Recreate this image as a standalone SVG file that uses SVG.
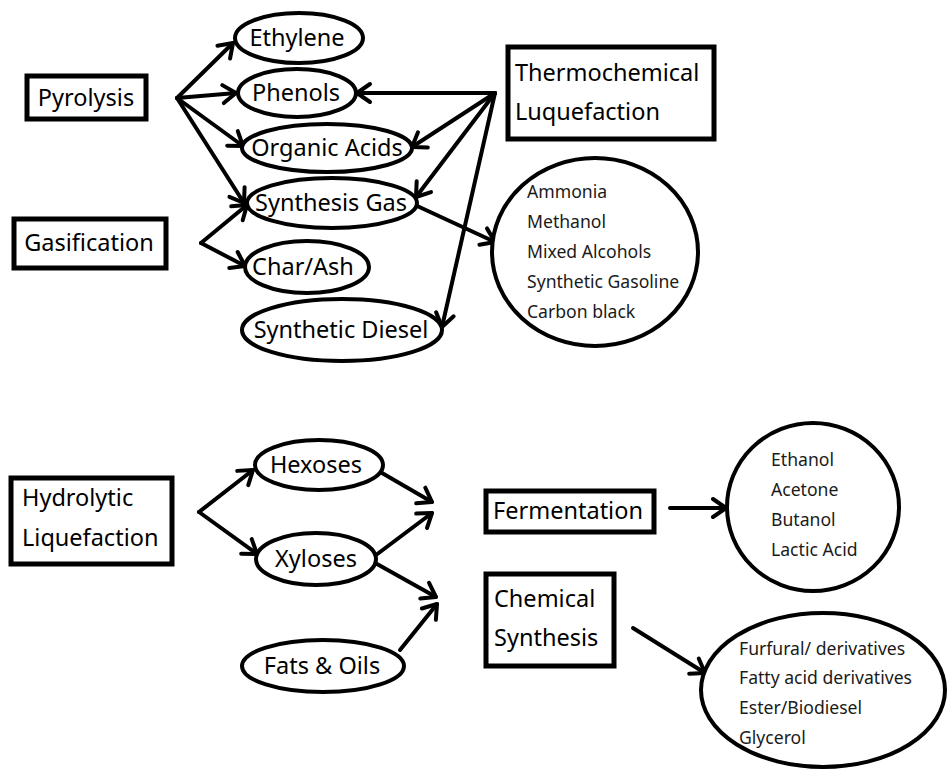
<svg xmlns="http://www.w3.org/2000/svg" width="948" height="771" viewBox="0 0 948 771">
<style>
.box{fill:#fff;stroke:#000;stroke-width:5}
.ell{fill:#fff;stroke:#000;stroke-width:4}
.t{font-family:"Noto Sans","Open Sans",sans-serif;font-size:23.5px;fill:#000}
.s{font-family:"Noto Sans","Open Sans",sans-serif;font-size:17.6px;fill:#1a1a1a}
.c{text-anchor:middle}
.ln{stroke:#000;stroke-width:4;fill:none;stroke-linecap:round;marker-end:url(#ah)}
</style>
<defs>
<marker id="ah" markerWidth="20" markerHeight="20" refX="15" refY="9" orient="auto" markerUnits="userSpaceOnUse" overflow="visible">
<path d="M2,0 L15,9 L2,18" fill="none" stroke="#000" stroke-width="4" stroke-linecap="round" stroke-linejoin="round"/>
</marker>
</defs>
<rect width="948" height="771" fill="#fff"/>
<g id="connectors">
<line class="ln" x1="177" y1="98" x2="233" y2="43"/>
<line class="ln" x1="177" y1="98" x2="236" y2="93"/>
<line class="ln" x1="177" y1="98" x2="243" y2="146"/>
<line class="ln" x1="177" y1="98" x2="244" y2="203"/>
<line class="ln" x1="201" y1="243" x2="247" y2="205"/>
<line class="ln" x1="201" y1="243" x2="245" y2="266"/>
<line class="ln" x1="495" y1="93" x2="357" y2="93"/>
<line class="ln" x1="495" y1="93" x2="412" y2="147"/>
<line class="ln" x1="495" y1="93" x2="416" y2="197"/>
<line class="ln" x1="495" y1="93" x2="442" y2="327"/>
<line class="ln" x1="415" y1="205" x2="495" y2="242"/>
<line class="ln" x1="199" y1="512" x2="253" y2="470"/>
<line class="ln" x1="199" y1="512" x2="257" y2="554"/>
<line class="ln" x1="382" y1="473" x2="432" y2="502"/>
<line class="ln" x1="376" y1="555" x2="432" y2="513"/>
<line class="ln" x1="377" y1="564" x2="436" y2="597"/>
<line class="ln" x1="400" y1="650" x2="437" y2="604"/>
<line class="ln" x1="670" y1="508" x2="726" y2="508"/>
<line class="ln" x1="633" y1="628" x2="705" y2="673"/>
</g>
<g id="pyrolysis"><rect class="box" x="27" y="76" width="119" height="43"/><text class="t c" x="86" y="106">Pyrolysis</text></g>
<g id="gasification"><rect class="box" x="14" y="219" width="152" height="49"/><text class="t c" x="89" y="251">Gasification</text></g>
<g id="thermochemical"><rect class="box" x="508" y="47" width="206" height="92"/><text class="t" x="515" y="81">Thermochemical</text><text class="t" x="515" y="120">Luquefaction</text></g>
<g id="ethylene"><ellipse class="ell" cx="299" cy="38" rx="64" ry="25"/><text class="t c" x="297" y="46">Ethylene</text></g>
<g id="phenols"><ellipse class="ell" cx="297" cy="93" rx="59" ry="24"/><text class="t c" x="296" y="101">Phenols</text></g>
<g id="organic-acids"><ellipse class="ell" cx="327" cy="148" rx="85" ry="24"/><text class="t c" x="327" y="156">Organic Acids</text></g>
<g id="synthesis-gas"><ellipse class="ell" cx="332" cy="203" rx="85" ry="25"/><text class="t c" x="331" y="211">Synthesis Gas</text></g>
<g id="char-ash"><ellipse class="ell" cx="307" cy="267" rx="62" ry="26"/><text class="t c" x="303" y="275">Char/Ash</text></g>
<g id="synthetic-diesel"><ellipse class="ell" cx="342" cy="330" rx="100" ry="31"/><text class="t c" x="341" y="338">Synthetic Diesel</text></g>
<g id="syngas-products"><ellipse class="ell" cx="595" cy="252" rx="103" ry="94"/>
<text class="s" x="527" y="198">Ammonia</text><text class="s" x="527" y="228">Methanol</text><text class="s" x="527" y="258">Mixed Alcohols</text><text class="s" x="527" y="288">Synthetic Gasoline</text><text class="s" x="527" y="318">Carbon black</text></g>
<g id="hydrolytic"><rect class="box" x="11" y="478" width="161" height="86"/><text class="t" x="22" y="506">Hydrolytic</text><text class="t" x="22" y="546">Liquefaction</text></g>
<g id="hexoses"><ellipse class="ell" cx="319" cy="465" rx="64" ry="25"/><text class="t c" x="316" y="473">Hexoses</text></g>
<g id="xyloses"><ellipse class="ell" cx="316" cy="559" rx="60" ry="26"/><text class="t c" x="316" y="567">Xyloses</text></g>
<g id="fats-oils"><ellipse class="ell" cx="323" cy="666" rx="81" ry="26"/><text class="t c" x="322" y="674">Fats &amp; Oils</text></g>
<g id="fermentation"><rect class="box" x="486" y="491" width="168" height="41"/><text class="t c" x="568" y="519">Fermentation</text></g>
<g id="chemical-synthesis"><rect class="box" x="486" y="574" width="128" height="92"/><text class="t" x="494" y="607">Chemical</text><text class="t" x="494" y="646">Synthesis</text></g>
<g id="fermentation-products"><ellipse class="ell" cx="813" cy="507" rx="86" ry="84"/>
<text class="s" x="771" y="466">Ethanol</text><text class="s" x="771" y="496">Acetone</text><text class="s" x="771" y="526">Butanol</text><text class="s" x="771" y="556">Lactic Acid</text></g>
<g id="chemical-products"><ellipse class="ell" cx="823" cy="690" rx="122" ry="77"/>
<text class="s" x="739" y="655">Furfural/ derivatives</text><text class="s" x="739" y="684">Fatty acid derivatives</text><text class="s" x="739" y="714">Ester/Biodiesel</text><text class="s" x="739" y="744">Glycerol</text></g>
</svg>
